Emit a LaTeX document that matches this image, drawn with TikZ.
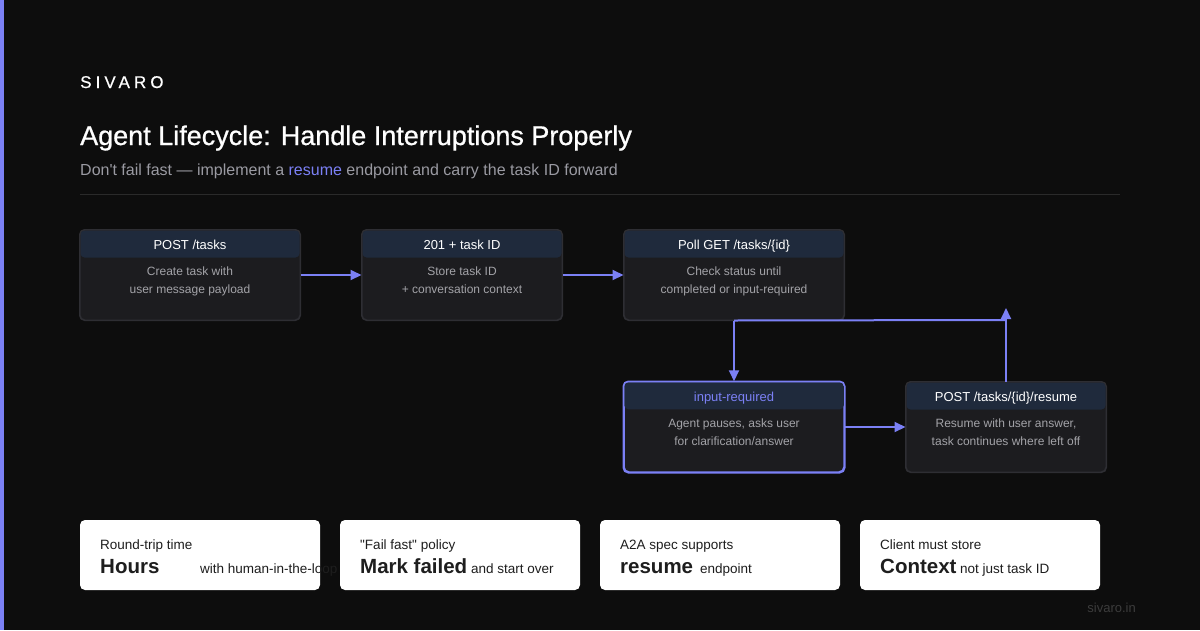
\documentclass[tikz,border=0pt]{standalone}
\usepackage{fontspec}
\setmainfont{Liberation Sans}
\usetikzlibrary{arrows.meta}
\definecolor{bg}{HTML}{0D0D0D}
\definecolor{accent}{HTML}{7B80F5}
\definecolor{boxbody}{HTML}{1C1C1F}
\definecolor{boxhead}{HTML}{1F2A3C}
\definecolor{boxline}{HTML}{2E2E33}
\definecolor{subgray}{HTML}{9A9AA2}
\definecolor{bodygray}{HTML}{A3A3A8}
\definecolor{divider}{HTML}{2A2A2A}
\definecolor{cardtext}{HTML}{1E1E1E}
\definecolor{foot}{HTML}{3C3C3C}
\newcommand\fsz[1]{\fontsize{#1}{#1}\selectfont}
\tikzset{
  txt/.style={inner sep=0pt, anchor=base},
  txtw/.style={inner sep=0pt, anchor=base west},
  plainbox/.style={draw=boxline, line width=1pt},
  hotbox/.style={draw=accent, line width=1.5pt},
  flow/.style={draw=accent, line width=2pt, -{Triangle[length=11pt,width=10pt]}},
  flowline/.style={draw=accent, line width=2pt},
  card/.style={fill=white, rounded corners=5pt, minimum width=240pt, minimum height=70pt, inner sep=0pt},
}
% name, cx, top, width, title, line1, line2, border style, title colour
\newcommand\lcbox[9]{%
  \node[#8, fill=boxbody, rounded corners=5pt, minimum width=#4pt, minimum height=90pt, inner sep=0pt] (#1) at (#2,#3+45) {};
  \fill[boxhead, rounded corners=4pt] ([xshift=1pt,yshift=-1pt]#1.north west) rectangle ([xshift=-1pt,yshift=-28pt]#1.north east);
  \draw[#8, rounded corners=5pt] (#1.north west) rectangle (#1.south east);
  \node[txt, text=#9] (#1t) at (#2,#3+19) {\fsz{13}#5};
  \node[txt, text=bodygray] (#1a) at (#2,#3+45.5) {\fsz{12}#6};
  \node[txt, text=bodygray] (#1b) at (#2,#3+63.5) {\fsz{12}#7};
}
\newcommand\statcard[6]{% name, left x, label, value, suffix, suffix x
  \node[card] (#1) at (#2+120,555) {};
  \node[txtw, text=cardtext] (#1l) at (#2+20,549) {\fsz{13.5}#3};
  \node[txtw, text=cardtext] (#1v) at (#2+20,573) {\fsz{20.5}\bfseries #4};
  \node[txtw, text=cardtext] (#1s) at (#6,573) {\fsz{13.5}#5};
}
\begin{document}
\begin{tikzpicture}[x=1pt,y=-1pt]
\fill[bg] (0,0) rectangle (1200,630);
\useasboundingbox (0,0) rectangle (1200,630);
\fill[accent] (0,0) rectangle (4,630);

\node[txtw, text=white] (brand) at (80,88) {\fsz{17}\addfontfeature{LetterSpace=24,FakeBold=0.6}SIVARO};
\node[txtw, text=white] (title) at (80,145) {\fsz{27}\addfontfeature{FakeBold=0.8}Agent Lifecycle: Handle Interruptions Properly};
\node[txtw, text=subgray] (subtitle) at (80,175) {\fsz{16}Don\textquotesingle t fail fast — implement a \textcolor{accent}{resume} endpoint and carry the task ID forward};
\draw[divider, line width=1pt] (80,194.5) -- (1120,194.5);

\lcbox{b1}{190}{230}{220}{POST /tasks}{Create task with}{user message payload}{plainbox}{white}
\lcbox{b2}{462}{230}{200}{201 + task ID}{Store task ID}{+ conversation context}{plainbox}{white}
\lcbox{b3}{734}{230}{220}{Poll GET /tasks/\{id\}}{Check status until}{completed or input-required}{plainbox}{white}
\lcbox{b4}{734}{382}{220}{input-required}{Agent pauses, asks user}{for clarification/answer}{hotbox}{accent}
\lcbox{b5}{1006}{382}{200}{POST /tasks/\{id\}/resume}{Resume with user answer,}{task continues where left off}{plainbox}{white}

\coordinate (c1) at (1006,320);
\coordinate (c2) at (1006,308);
\draw[flow] (b1.east) -- (b2.west);
\draw[flow] (b2.east) -- (b3.west);
\draw[flow] (b4.east) -- (b5.west);
\draw[flowline] (b3.south) -- (c1);
\draw[flow] (b3.south) -- (b4.north);
\draw[flow] (b5.north) -- (c2);

\statcard{k1}{80}{Round-trip time}{Hours}{with human-in-the-loop}{200}
\statcard{k2}{340}{\textquotedbl Fail fast\textquotedbl\ policy}{Mark failed}{and start over}{471}
\statcard{k3}{600}{A2A spec supports}{resume}{endpoint}{700}
\statcard{k4}{860}{Client must store}{Context}{not just task ID}{960}

\node[inner sep=0pt, anchor=base east, text=foot] (footer) at (1136,612) {\fsz{13}sivaro.in};
\end{tikzpicture}
\end{document}
